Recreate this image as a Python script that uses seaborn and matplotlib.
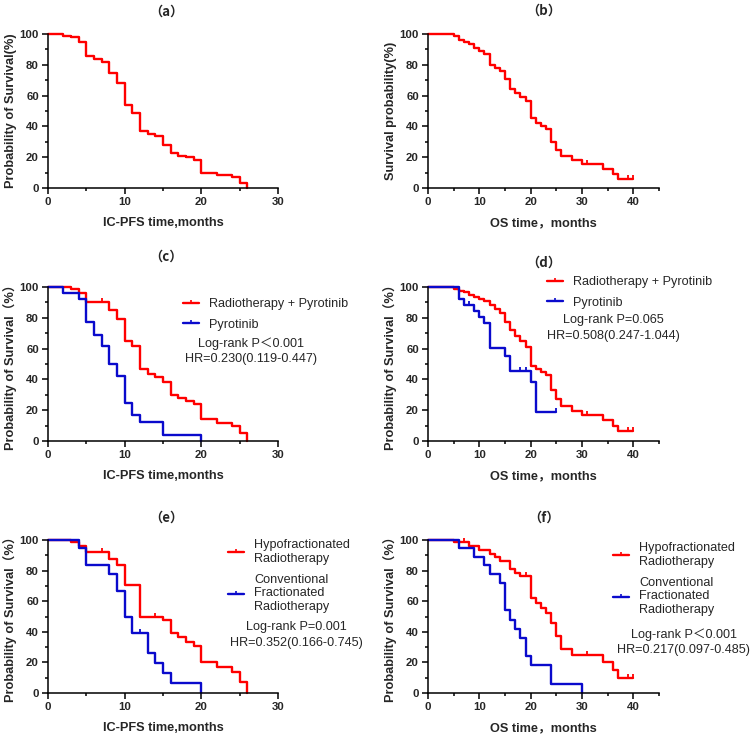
import numpy as np
import pandas as pd
import matplotlib
matplotlib.use("Agg")
import matplotlib.pyplot as plt
from matplotlib.lines import Line2D
from matplotlib.ticker import MultipleLocator
import seaborn as sb

sb.set_style("white")
plt.rcParams["font.family"] = ["Liberation Sans", "Noto Sans CJK SC", "DejaVu Sans"]
TC = ["Liberation Sans", "Noto Sans CJK TC", "DejaVu Sans"]

RED = "#FF0000"
BLUE = "#0A0ACC"

# (a) IC-PFS, all patients
a_t = [0, 2, 3, 4, 5, 6, 7, 8, 9, 10, 11, 12, 13, 14, 15, 16, 17, 18, 19, 20, 22, 24, 25, 26]
a_s = [100, 99, 98, 95, 86, 84, 82, 75, 68, 54, 49, 37, 35, 33.5, 28, 22.5, 21, 20, 18.5, 10, 8.5, 7, 3.3, 0]

# (b) OS, all patients
b_t = [0, 5, 6, 7, 8, 9, 10, 11, 12, 13, 14, 15, 16, 17, 18, 19, 20, 21, 22, 23, 24, 25, 26, 28, 30, 34, 36, 37, 40]
b_s = [100, 99, 96, 95, 93.5, 91, 89, 87, 80, 78, 76, 71, 64, 61.5, 59, 56.5, 45.5, 42, 40, 38.5, 30, 25, 20.5, 18, 15.5, 12.5, 9, 6, 6]
b_ct = [31, 39, 40]
b_cs = [15.5, 6, 6]

# (c) IC-PFS by treatment
c1_t = [0, 3, 4, 5, 8, 9, 10, 11, 12, 13, 14, 15, 16, 17, 18, 19, 20, 22, 24, 25, 26]
c1_s = [100, 99, 96, 90, 85, 79, 65, 62, 47, 43.5, 41.5, 38, 30, 28, 26, 24, 14.5, 12, 10, 5, 0]
c1_ct = [7]
c1_cs = [90]
c2_t = [0, 2, 4, 5, 6, 7, 8, 9, 10, 11, 12, 15, 20]
c2_s = [100, 96, 92, 77, 69, 61.5, 50, 42, 25, 17, 12.5, 4.2, 0]

# (d) OS by treatment
d1_t = [0, 5, 6, 7, 8, 9, 10, 11, 12, 13, 14, 15, 16, 17, 18, 19, 20, 21, 22, 23, 24, 25, 26, 28, 30, 34, 36, 37, 40]
d1_s = [100, 99, 97.5, 96.5, 95, 93.5, 92, 91, 88, 86, 83, 77, 72, 68, 65, 61, 49, 47, 45, 43, 33, 27.5, 22.5, 19.5, 17, 13.5, 10, 6.8, 6.8]
d1_ct = [31, 39, 40]
d1_cs = [17, 6.8, 6.8]
d2_t = [0, 6, 7, 9, 10, 11, 12, 15, 16, 20, 21, 25]
d2_s = [100, 92, 88.5, 84.5, 80.5, 76.5, 60.5, 55.5, 45.5, 38, 19, 19]
d2_ct = [8, 18, 19, 25]
d2_cs = [88.5, 45.5, 45.5, 19]

# (e) IC-PFS by fractionation
e1_t = [0, 3, 4, 5, 8, 9, 10, 12, 15, 16, 17, 18, 19, 20, 22, 24, 25, 26]
e1_s = [100, 98.5, 96, 92, 87.5, 83.5, 70.5, 50, 47.5, 39.5, 36.5, 33.5, 30.5, 20.5, 17, 13.5, 7, 0]
e1_ct = [7, 14]
e1_cs = [92, 50]
e2_t = [0, 4, 5, 8, 9, 10, 11, 13, 14, 15, 16, 20]
e2_s = [100, 94.5, 83.5, 78, 66.5, 50, 39, 26, 19.5, 13, 6.5, 0]
e2_ct = [12]
e2_cs = [39]

# (f) OS by fractionation
f1_t = [0, 5, 8, 10, 12, 13, 14, 16, 17, 18, 20, 21, 22, 23, 24, 25, 26, 28, 34, 36, 37, 40]
f1_s = [100, 98.5, 96, 93.5, 91, 89, 86.5, 81, 78.5, 76.5, 62, 59, 55.5, 52.5, 45.5, 37.5, 29, 25, 20, 15, 10, 10]
f1_ct = [7, 19, 31, 39, 40]
f1_cs = [98.5, 76.5, 25, 10, 10]
f2_t = [0, 6, 9, 11, 12, 14, 15, 16, 17, 18, 19, 20, 24, 30]
f2_s = [100, 94.5, 89, 83.5, 78, 72, 54, 48, 42, 36, 24, 18, 6, 0]

W, H = 753, 736
fig = plt.figure(figsize=(W / 100, H / 100), dpi=100)

tick = [(0, 0), (0, 1)]  # upward censor tick
FS = 9.1


def px_ax(x0, y0, x1, y1):
    return fig.add_axes([x0 / W, 1 - y1 / H, (x1 - x0) / W, (y1 - y0) / H])


def km(ax, t, s, color, ct=None, cs=None):
    df = pd.DataFrame({"t": t, "s": s})
    sb.lineplot(data=df, x="t", y="s", ax=ax, color=color, lw=1.7,
                drawstyle="steps-post", estimator=None, clip_on=False)
    if ct:
        ax.plot(ct, cs, ls="none", marker=tick, ms=6, mew=1.3, color=color, clip_on=False)


def style(ax, xmax, xlabel, ylabel):
    ax.set_xlim(0, xmax)
    ax.set_ylim(0, 100)
    ax.xaxis.set_major_locator(MultipleLocator(10))
    ax.xaxis.set_minor_locator(MultipleLocator(5))
    ax.yaxis.set_major_locator(MultipleLocator(20))
    ax.yaxis.set_minor_locator(MultipleLocator(10))
    if xmax == 45:
        ax.set_xticks([0, 10, 20, 30, 40])
    for sp in ["top", "right"]:
        ax.spines[sp].set_visible(False)
    for sp in ["left", "bottom"]:
        ax.spines[sp].set_linewidth(1.1)
        ax.spines[sp].set_color("black")
    ax.tick_params(which="major", direction="out", length=4, width=1.1, color="black",
                   labelsize=8.2, pad=2.5, bottom=True, left=True)
    ax.tick_params(which="minor", direction="out", length=2.5, width=1.1, color="black",
                   bottom=True, left=True)
    for lab in ax.get_xticklabels() + ax.get_yticklabels():
        lab.set_fontweight("bold")
    ax.set_xlabel(xlabel, fontsize=9.2, fontweight="bold", labelpad=7.5)
    ax.set_ylabel(ylabel, fontsize=9.2, fontweight="bold", labelpad=2, family=TC)
    ax.set_facecolor("none")


def ftext(x, y, s, **kw):
    fig.text(x / W, 1 - y / H, s, **kw)


def legend(ax, labels, colors, x, y, spacing):
    handles = [Line2D([], [], color=c, lw=1.7, marker=tick, ms=4, mew=1.2) for c in colors]
    ax.legend(handles, labels, loc="upper left", bbox_to_anchor=(x / W, 1 - y / H),
              bbox_transform=fig.transFigure, frameon=False, fontsize=FS,
              handlelength=1.3, handletextpad=0.75, labelspacing=spacing,
              borderpad=0, borderaxespad=0, numpoints=1)


ic = "IC-PFS time,months"
os_ = "OS time，months"
ylab = "Probability of Survival（%）"

# (a)
ax = px_ax(48, 34, 278, 188)
km(ax, a_t, a_s, RED)
style(ax, 30, ic, "Probability of Survival(%)")

# (b)
ax = px_ax(428, 34, 659, 188)
km(ax, b_t, b_s, RED, b_ct, b_cs)
style(ax, 45, os_, "Survival probability(%)")

# (c)
ax = px_ax(48, 287, 278, 441)
km(ax, c1_t, c1_s, RED, c1_ct, c1_cs)
km(ax, c2_t, c2_s, BLUE)
style(ax, 30, ic, ylab)
legend(ax, ["Radiotherapy + Pyrotinib", "Pyrotinib"], [RED, BLUE], 183, 298, 0.7)
ftext(251, 344, "Log-rank P＜0.001", ha="center", va="center", fontsize=FS)
ftext(251, 359, "HR=0.230(0.119-0.447)", ha="center", va="center", fontsize=FS)

# (d)
ax = px_ax(428, 287, 659, 441)
km(ax, d1_t, d1_s, RED, d1_ct, d1_cs)
km(ax, d2_t, d2_s, BLUE, d2_ct, d2_cs)
style(ax, 45, os_, ylab)
legend(ax, ["Radiotherapy + Pyrotinib", "Pyrotinib"], [RED, BLUE], 547, 276, 0.7)
ftext(613, 320, "Log-rank P=0.065", ha="center", va="center", fontsize=FS)
ftext(613, 336, "HR=0.508(0.247-1.044)", ha="center", va="center", fontsize=FS)

# (e)
ax = px_ax(48, 540, 278, 693)
km(ax, e1_t, e1_s, RED, e1_ct, e1_cs)
km(ax, e2_t, e2_s, BLUE, e2_ct, e2_cs)
style(ax, 30, ic, ylab)
legend(ax, ["Hypofractionated\nRadiotherapy", "Conventional\nFractionated\nRadiotherapy"],
       [RED, BLUE], 228, 539, 0.7)
ftext(296, 627, "Log-rank P=0.001", ha="center", va="center", fontsize=FS)
ftext(296, 643, "HR=0.352(0.166-0.745)", ha="center", va="center", fontsize=FS)

# (f)
ax = px_ax(428, 540, 659, 693)
km(ax, f1_t, f1_s, RED, f1_ct, f1_cs)
km(ax, f2_t, f2_s, BLUE)
style(ax, 45, os_, ylab)
legend(ax, ["Hypofractionated\nRadiotherapy", "Conventional\nFractionated\nRadiotherapy"],
       [RED, BLUE], 613, 542, 0.7)
ftext(684, 635, "Log-rank P＜0.001", ha="center", va="center", fontsize=FS)
ftext(684, 650, "HR=0.217(0.097-0.485)", ha="center", va="center", fontsize=FS)

# panel titles
for x, y, s in [(166, 12, "（a）"), (544, 11, "（b）"), (166, 257, "（c）"),
                (544, 263, "（d）"), (166, 518, "（e）"), (544, 518, "（f）")]:
    ftext(x, y, s, ha="center", va="center", fontsize=9.5, fontweight="bold",
          family=["Noto Sans CJK TC", "Liberation Sans"])

plt.savefig("out.png", dpi=100)
plt.close()
